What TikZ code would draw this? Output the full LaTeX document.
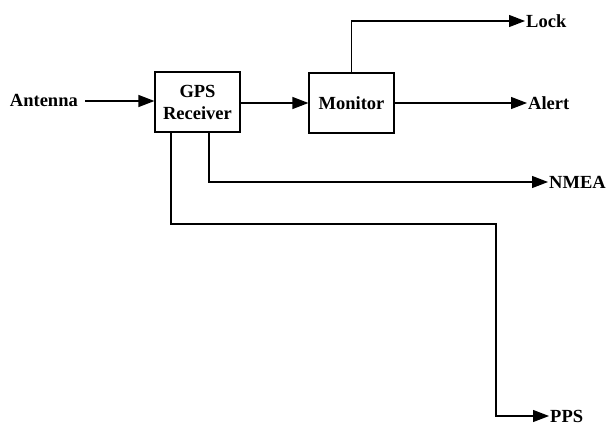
\documentclass[tikz,border=0pt]{standalone}
\usepackage{fontspec}
\setmainfont{Liberation Serif}
\usetikzlibrary{arrows.meta}
\begin{document}
\begin{tikzpicture}[x=1pt,y=-1pt,
  font=\fontsize{18.5}{22}\selectfont\bfseries,
  blk/.style={draw, line width=1.2pt, minimum width=85pt, minimum height=60pt, inner sep=0pt, align=center},
  lbl/.style={inner sep=1pt},
  arr/.style={line width=1.2pt, -{Triangle[length=16pt,width=12pt]}},
  ln/.style={line width=1.2pt}]
\useasboundingbox (0,0) rectangle (607,426);
\node[blk] (gps) at (197.5,102) {GPS\\Receiver};
\node[blk] (mon) at (351.5,103) {Monitor};
\node[lbl, anchor=east] (ant) at (79,100) {Antenna};
\node[lbl, anchor=west] (lock) at (525,21) {Lock};
\node[lbl, anchor=west] (alert) at (527,103) {Alert};
\node[lbl, anchor=west] (nmea) at (548,182) {NMEA};
\node[lbl, anchor=west] (pps) at (549,416) {PPS};
\coordinate (c1) at (496,224);
\draw[arr] (ant.east) ++(6,1) -- (gps.west |- 0,101);
\draw[arr] (gps.east |- 0,103) -- (mon.west |- 0,103);
\draw[arr] (mon.north) |- (lock.west);
\draw[arr] (mon.east) -- (alert.west);
\draw[arr] ([xshift=11.5pt]gps.south) |- (nmea.west);
\draw[arr] ([xshift=-26.5pt]gps.south) |- (c1) |- (pps.west);
\end{tikzpicture}
\end{document}
